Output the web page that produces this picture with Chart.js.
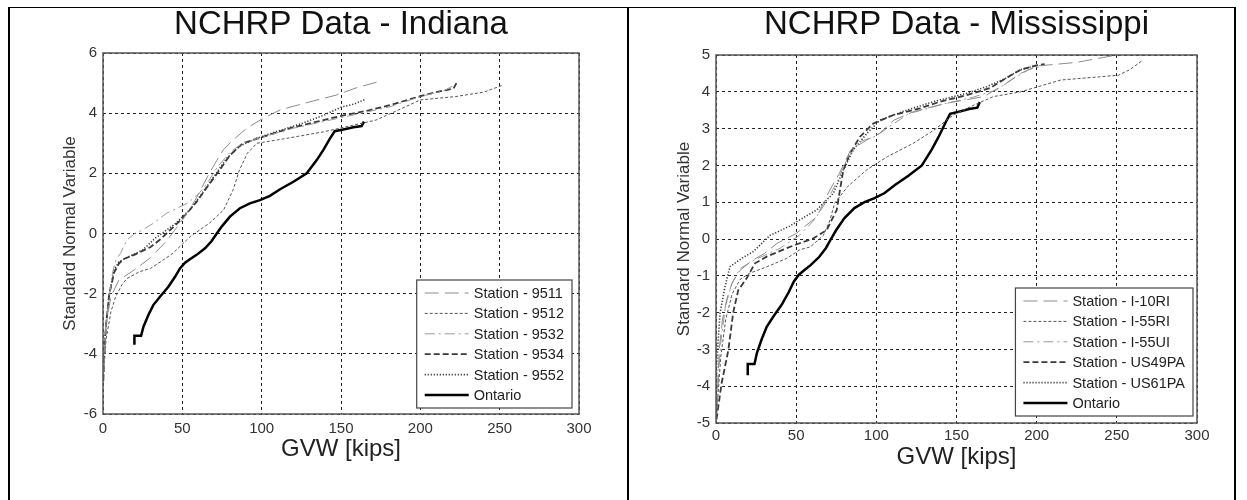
<!DOCTYPE html>
<html lang="en">
<head>
<meta charset="utf-8">
<title>NCHRP Data</title>
<script src="https://cdn.jsdelivr.net/npm/chart.js@4.4.1/dist/chart.umd.min.js"></script>
<style>
  html, body { margin: 0; padding: 0; background: #fff; }
  body { width: 1247px; height: 500px; position: relative; overflow: hidden; font-family: "Liberation Sans", Arial, sans-serif; }
  canvas { position: absolute; top: 0; }
  #graficoIndiana { left: 10px; }
  #graficoMississippi { left: 630px; }
  .linha { position: absolute; background: #000; z-index: 2; }
</style>
</head>
<body>
<canvas id="graficoIndiana" width="612" height="500"></canvas>
<canvas id="graficoMississippi" width="600" height="500"></canvas>

<!-- bordas da tabela -->
<div class="linha" style="left:9px; top:7px; width:1227px; height:1px;"></div>
<div class="linha" style="left:8px; top:7px; width:2px; height:493px;"></div>
<div class="linha" style="left:627px; top:7px; width:2px; height:493px;"></div>
<div class="linha" style="left:1234px; top:7px; width:2px; height:493px;"></div>

<script>
// Eixos (kips / variavel normal padrao)
const ticksGVW = [0, 50, 100, 150, 200, 250, 300];
const ticksIndiana = [-6, -4, -2, 0, 2, 4, 6];
const ticksMississippi = [-5, -4, -3, -2, -1, 0, 1, 2, 3, 4, 5];

// Ontario (mesma curva nos dois graficos)
const gvwOntario = [19.8, 19.8, 24, 25.5, 28.6, 31.7, 35.9, 41.2, 45.4, 48.5, 51.7, 55, 59, 64.3, 68.5, 71.7, 74.8, 80, 86.3, 92.6, 98.9, 105.2, 111.6, 120, 128.4, 134.7, 138.9, 143.1, 146, 151.5, 157.8, 163, 164.5];
const snvOntario = [-3.7, -3.4, -3.4, -3.1, -2.71, -2.38, -2.1, -1.77, -1.44, -1.16, -0.97, -0.85, -0.71, -0.49, -0.25, 0.0, 0.23, 0.56, 0.84, 1.0, 1.11, 1.25, 1.47, 1.72, 2.0, 2.44, 2.78, 3.16, 3.4, 3.46, 3.53, 3.57, 3.72];

// Indiana
const gvw9511 = [0.5, 2, 5, 10, 20, 30, 40, 50, 58, 66, 70.6, 75.8, 82, 90.6, 99, 111.6, 128.4, 147, 160, 176];
const snv9511 = [-4.6, -3.0, -2.1, -1.55, -1.2, -0.8, -0.25, 0.45, 1.1, 1.9, 2.33, 2.78, 3.11, 3.5, 3.77, 4.11, 4.35, 4.6, 4.85, 5.08];
const gvw9512 = [0.5, 2, 5, 8, 12, 15, 23, 30, 36, 44, 55, 67, 76, 82, 86, 91, 97, 110, 139, 172, 186, 200, 222, 240, 252];
const snv9512 = [-4.5, -3.5, -2.6, -2.1, -1.7, -1.5, -1.27, -1.16, -0.95, -0.66, -0.1, 0.34, 0.78, 1.45, 2.11, 2.67, 3.0, 3.11, 3.38, 3.77, 4.1, 4.44, 4.55, 4.7, 4.93];
const gvw9532 = [0.3, 1, 3, 6, 8, 11, 15, 20, 25, 32, 40, 53, 60, 66, 72, 80, 88, 100, 120, 150, 180, 200, 215, 222];
const snv9532 = [-4.7, -3.5, -2.5, -1.3, -0.9, -0.66, -0.22, 0, 0.12, 0.35, 0.67, 1.0, 1.3, 1.7, 2.2, 2.7, 3.0, 3.2, 3.5, 3.85, 4.2, 4.55, 4.75, 4.95];
const gvw9534 = [0.2, 1, 2, 4, 7, 10, 13, 20, 30, 36, 42, 50, 59, 65, 72, 80, 88, 100, 118, 135, 151, 168, 181, 199, 210, 221, 223.5];
const snv9534 = [-4.9, -3.8, -3.0, -2.0, -1.3, -1.0, -0.85, -0.7, -0.45, -0.2, 0.1, 0.5, 1.05, 1.5, 2.0, 2.6, 3.0, 3.2, 3.5, 3.72, 3.92, 4.1, 4.27, 4.55, 4.7, 4.82, 5.08];
const gvw9552 = [0.3, 1, 2.5, 4, 7, 10, 15, 25, 33, 45, 55, 62, 70, 78, 86, 96, 110, 125, 140, 150, 158, 165];
const snv9552 = [-4.7, -3.6, -2.7, -2.0, -1.2, -0.95, -0.8, -0.55, -0.15, 0.3, 0.8, 1.3, 1.9, 2.5, 2.9, 3.15, 3.4, 3.65, 3.95, 4.2, 4.3, 4.45];

// Mississippi
const gvwI10RI = [0.5, 2, 4, 7, 10, 15, 22, 30, 38, 50, 63, 71, 77, 84, 94, 102, 111, 123, 144, 167, 180, 190, 200, 225, 250];
const snvI10RI = [-4.6, -3.0, -2.2, -1.6, -1.2, -0.85, -0.6, -0.4, -0.12, 0.15, 0.61, 1.33, 1.79, 2.42, 2.69, 2.87, 3.23, 3.46, 3.69, 3.87, 4.2, 4.5, 4.7, 4.8, 5.0];
const gvwI55RI = [0.5, 3, 6, 10, 15, 21, 32, 44, 52, 59, 67, 71, 74, 82, 94, 107, 123, 136, 148, 161, 173, 190, 215, 251, 258, 266];
const snvI55RI = [-4.7, -3.2, -2.2, -1.5, -1.1, -0.93, -0.75, -0.53, -0.3, -0.21, 0.1, 0.5, 0.97, 1.42, 1.88, 2.24, 2.6, 2.96, 3.37, 3.64, 3.87, 4.0, 4.32, 4.45, 4.6, 4.85];
const gvwI55UI = [0.5, 3, 6, 10, 15, 25, 40, 52, 62, 70, 76, 82, 90, 100, 108, 120, 140, 160, 175, 185, 195, 205];
const snvI55UI = [-4.5, -2.8, -1.8, -1.2, -0.8, -0.55, -0.25, 0.1, 0.55, 1.1, 1.6, 2.2, 2.65, 2.8, 3.05, 3.4, 3.65, 3.85, 4.05, 4.35, 4.6, 4.72];
const gvwUS49PA = [0.3, 3.5, 7.7, 10.8, 13.9, 19.1, 24.3, 31.6, 44.1, 50, 60, 69, 75.3, 77.3, 79.4, 83.6, 89.8, 98.1, 110.6, 127.2, 139.7, 156.4, 170.9, 180, 190, 200, 205];
const snvUS49PA = [-4.9, -3.92, -3.02, -1.98, -1.39, -1.07, -0.66, -0.48, -0.25, -0.15, 0.0, 0.24, 0.79, 1.33, 1.87, 2.33, 2.78, 3.14, 3.37, 3.55, 3.73, 3.91, 4.1, 4.35, 4.6, 4.72, 4.75];
const gvwUS61PA = [0.3, 0.4, 2.5, 5.6, 8.7, 17, 23, 33.7, 46, 50.3, 62.8, 73.2, 79.4, 85.6, 94.1, 102.3, 118.9, 135.5, 156.4, 168.8, 180, 190, 200];
const snvUS61PA = [-4.8, -3.4, -2.02, -1.3, -0.75, -0.5, -0.35, 0.1, 0.35, 0.47, 0.79, 1.24, 1.87, 2.42, 2.87, 3.23, 3.5, 3.73, 3.96, 4.14, 4.35, 4.6, 4.72];

const FONTE = '"Liberation Sans", Arial, sans-serif';

// Estilos de linha (tracejados estilo MATLAB)
const estiloTracoLongo = { borderColor: "#8c8c8c", borderWidth: 1, borderDash: [14, 6] };
const estiloTracoCurto = { borderColor: "#555", borderWidth: 1, borderDash: [3, 2] };
const estiloTracoPonto = { borderColor: "#999", borderWidth: 1, borderDash: [10, 4, 2, 4] };
const estiloTracejado = { borderColor: "#3a3a3a", borderWidth: 1.8, borderDash: [6, 3] };
const estiloPontilhado = { borderColor: "#3a3a3a", borderWidth: 1.6, borderDash: [1.2, 1.8] };
const estiloOntario = { borderColor: "#000", borderWidth: 2.5, borderDash: [] };

// Monta um dataset a partir dos arrays x / y
function serie(label, xs, ys, estilo) {
  return {
    label: label,
    data: xs.map((x, i) => ({ x: x, y: ys[i] })),
    borderColor: estilo.borderColor,
    borderWidth: estilo.borderWidth,
    borderDash: estilo.borderDash,
    pointRadius: 0,
    tension: 0,
    fill: false
  };
}

// Titulo centralizado sobre a area do grafico
const tituloPlugin = {
  id: "tituloPlugin",
  afterDraw(chart, args, opts) {
    const { ctx, chartArea } = chart;
    ctx.save();
    ctx.font = "33px " + FONTE;
    ctx.fillStyle = "#111";
    ctx.textAlign = "center";
    ctx.textBaseline = "alphabetic";
    ctx.fillText(opts.texto, (chartArea.left + chartArea.right) / 2, 34);
    ctx.restore();
  }
};

// Caixa em volta da area do grafico + legenda dentro dela
const legendaInterna = {
  id: "legendaInterna",
  afterDatasetsDraw(chart, args, opts) {
    const { ctx, chartArea } = chart;
    ctx.save();
    ctx.strokeStyle = "#555";
    ctx.lineWidth = 1.5;
    ctx.setLineDash([]);
    ctx.strokeRect(chartArea.left, chartArea.top, chartArea.right - chartArea.left, chartArea.bottom - chartArea.top);

    const datasets = chart.data.datasets;
    ctx.font = "14.5px " + FONTE;
    const larguraTexto = Math.max(...datasets.map(d => ctx.measureText(d.label).width));
    const linhaAmostra = 44;
    const largura = 8 + linhaAmostra + 5 + larguraTexto + 8;
    const passo = 20.4;
    const altura = 13 * 2 + passo * (datasets.length - 1);
    const x0 = chartArea.right - opts.margemDireita - largura;
    const y0 = chartArea.bottom - opts.margemInferior - altura;

    ctx.fillStyle = "#fff";
    ctx.fillRect(x0, y0, largura, altura);
    ctx.strokeStyle = "#444";
    ctx.lineWidth = 1.2;
    ctx.strokeRect(x0, y0, largura, altura);

    datasets.forEach((d, i) => {
      const y = y0 + 13 + i * passo;
      ctx.beginPath();
      ctx.setLineDash(d.borderDash || []);
      ctx.strokeStyle = d.borderColor;
      ctx.lineWidth = d.borderWidth;
      ctx.moveTo(x0 + 8, y);
      ctx.lineTo(x0 + 8 + linhaAmostra, y);
      ctx.stroke();
      ctx.setLineDash([]);
      ctx.fillStyle = "#222";
      ctx.textAlign = "left";
      ctx.textBaseline = "middle";
      ctx.fillText(d.label, x0 + 8 + linhaAmostra + 5, y + 1);
    });
    ctx.restore();
  }
};

function criarGrafico(id, cfg) {
  const ctx = document.getElementById(id);
  if (!ctx) return null;

  return new Chart(ctx, {
    type: "line",
    data: { datasets: cfg.datasets },
    options: {
      responsive: false,
      animation: false,
      layout: { padding: { top: cfg.topo, right: cfg.direita, left: 0, bottom: 0 } },
      plugins: {
        legend: { display: false },
        tooltip: { enabled: false },
        tituloPlugin: { texto: cfg.titulo },
        legendaInterna: { margemDireita: cfg.legDireita, margemInferior: cfg.legInferior }
      },
      scales: {
        x: {
          type: "linear",
          min: 0,
          max: 300,
          afterBuildTicks: scale => { scale.ticks = ticksGVW.map(v => ({ value: v })); },
          afterFit: scale => { scale.height = cfg.alturaX; },
          ticks: { color: "#333", padding: cfg.padTickX, font: { family: FONTE, size: 15 } },
          grid: { color: "#222", lineWidth: 1, drawTicks: false },
          border: { display: false, dash: [3, 3] },
          title: {
            display: true,
            text: "GVW [kips]",
            color: "#222",
            font: { family: FONTE, size: 24 },
            padding: { top: 0, bottom: cfg.padTituloX }
          }
        },
        y: {
          type: "linear",
          min: cfg.ticksY[0],
          max: cfg.ticksY[cfg.ticksY.length - 1],
          afterBuildTicks: scale => { scale.ticks = cfg.ticksY.map(v => ({ value: v })); },
          afterFit: scale => { scale.width = cfg.larguraY; },
          ticks: { color: "#333", padding: 6, font: { family: FONTE, size: 15 } },
          grid: { color: "#222", lineWidth: 1, drawTicks: false },
          border: { display: false, dash: [3, 3] },
          title: {
            display: true,
            text: "Standard Normal Variable",
            color: "#333",
            font: { family: FONTE, size: 17 },
            padding: { top: cfg.padTituloY, bottom: 0 }
          }
        }
      }
    },
    plugins: [tituloPlugin, legendaInterna]
  });
}

criarGrafico("graficoIndiana", {
  titulo: "NCHRP Data - Indiana",
  ticksY: ticksIndiana,
  topo: 53,
  direita: 43,
  larguraY: 93,
  alturaX: 86,
  padTickX: 6,
  padTituloX: 36.6,
  padTituloY: 49.8,
  legDireita: 7,
  legInferior: 6,
  datasets: [
    serie("Station - 9511", gvw9511, snv9511, estiloTracoLongo),
    serie("Station - 9512", gvw9512, snv9512, estiloTracoCurto),
    serie("Station - 9532", gvw9532, snv9532, estiloTracoPonto),
    serie("Station - 9534", gvw9534, snv9534, estiloTracejado),
    serie("Station - 9552", gvw9552, snv9552, estiloPontilhado),
    serie("Ontario", gvwOntario, snvOntario, estiloOntario)
  ]
});

criarGrafico("graficoMississippi", {
  titulo: "NCHRP Data - Mississippi",
  ticksY: ticksMississippi,
  topo: 55,
  direita: 33,
  larguraY: 86,
  alturaX: 77,
  padTickX: 4,
  padTituloX: 28.6,
  padTituloY: 43.8,
  legDireita: 4,
  legInferior: 7,
  datasets: [
    serie("Station - I-10RI", gvwI10RI, snvI10RI, estiloTracoLongo),
    serie("Station - I-55RI", gvwI55RI, snvI55RI, estiloTracoCurto),
    serie("Station - I-55UI", gvwI55UI, snvI55UI, estiloTracoPonto),
    serie("Station - US49PA", gvwUS49PA, snvUS49PA, estiloTracejado),
    serie("Station - US61PA", gvwUS61PA, snvUS61PA, estiloPontilhado),
    serie("Ontario", gvwOntario, snvOntario, estiloOntario)
  ]
});
</script>
</body>
</html>
